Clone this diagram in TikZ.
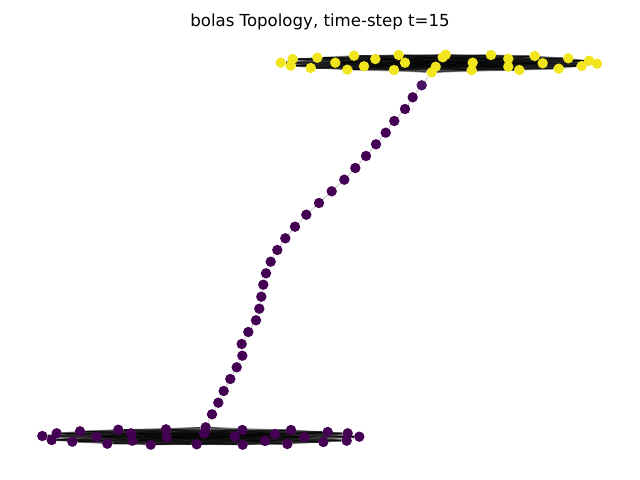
\documentclass[tikz,border=0pt]{standalone}
\usepackage{fontspec}
\setmainfont{DejaVu Sans}
\usetikzlibrary{backgrounds}
\definecolor{vtop}{HTML}{F1E51D}
\definecolor{vlow}{HTML}{440154}
\definecolor{vlink}{HTML}{471365}

\begin{document}
\begin{tikzpicture}[
        x=0.025cm, y=-0.025cm,
        vnode/.style={circle, inner sep=0pt, minimum size=0.26cm},
        topnode/.style={vnode, fill=vtop},
        lownode/.style={vnode, fill=vlow},
        linknode/.style={vnode, fill=vlink},
        edge/.style={draw=black, opacity=0.2, line width=0.7pt},
        titlelabel/.style={font=\fontsize{11.8}{14}\selectfont, anchor=base},
    ]
    \useasboundingbox (0,0) rectangle (640,480);

    % ---- Title ----
    \node[titlelabel] (title) at (320,26.5) {bolas Topology, time-step t=15};

    % ---- Top clique (yellow) ----
    \foreach [count=\n] \x/\y in {280.7/62.7, 292.7/59, 290.7/65.7, 310.7/68, 317.3/57.7,
        335.3/62.7, 347.3/69.7, 354/55.7, 364/66.3, 375.3/59, 394/70, 398.7/55,
        405/62.7, 431.7/72.3, 435.7/66.7, 442.7/57.3, 445.7/54.7, 472.7/62.7,
        471.7/70.3, 491/55, 508.3/58.7, 508.3/66.7, 519.3/70, 534.7/56, 542.7/63.3,
        558.7/68.7, 568.3/58.3, 581.7/66, 589/60.7, 597/63.7} {
        \node[topnode] (T\n) at (\x,\y) {};
    }

    % ---- Bottom clique (purple) ----
    \foreach [count=\n] \x/\y in {42.3/436, 51.7/440, 56.7/433.3, 72.3/441.7, 80/431.3,
        96.7/436.7, 107.3/443.7, 118.3/429.7, 131/433.3, 132.3/440.7, 150.7/444.7,
        166/429.3, 166.7/437.3, 196.7/444.3, 204/433.3, 205.7/427.3, 234.7/436.7,
        242.3/430, 242.7/444.7, 265/441, 275/434, 287.3/444, 291/430, 304.3/437.3,
        323.3/442, 327.7/432, 347.7/433.3, 346.7/440.7, 359.3/436.7} {
        \node[lownode] (B\n) at (\x,\y) {};
    }

    % ---- Path between the cliques ----
    \node[linknode] (P1) at (421.7,85.3) {};
    \foreach [count=\n from 2] \x/\y in {412.7/97.3, 405/109, 394.3/121, 385.7/132.7,
        376/144.3, 366/156, 355.3/168, 344.3/179.7, 331.7/191.3, 319/203, 306.3/214.7,
        295/226.7, 285.3/238.3, 277.3/250, 270.7/261.7, 266/273.3, 263.3/284.7,
        261.3/296.7, 259.3/308.7, 256/320.3, 248.3/332, 241.7/344, 242.3/355.7,
        236.7/367.3, 230.3/379, 223.7/391, 218.3/402.7, 212/414.3} {
        \node[lownode] (P\n) at (\x,\y) {};
    }

    % ---- Edges, behind the nodes ----
    \begin{scope}[on background layer]
        \foreach \i in {1,...,29} {
            \pgfmathtruncatemacro\k{\i+1}
            \foreach \j in {\k,...,30} {
                \draw[edge] (T\i) -- (T\j);
            }
        }
        \foreach \i in {1,...,28} {
            \pgfmathtruncatemacro\k{\i+1}
            \foreach \j in {\k,...,29} {
                \draw[edge] (B\i) -- (B\j);
            }
        }
        \foreach \i in {1,...,28} {
            \pgfmathtruncatemacro\k{\i+1}
            \draw[edge] (P\i) -- (P\k);
        }
        \draw[edge] (T14) -- (P1);
        \draw[edge] (P29) -- (B16);
    \end{scope}

\end{tikzpicture}
\end{document}
